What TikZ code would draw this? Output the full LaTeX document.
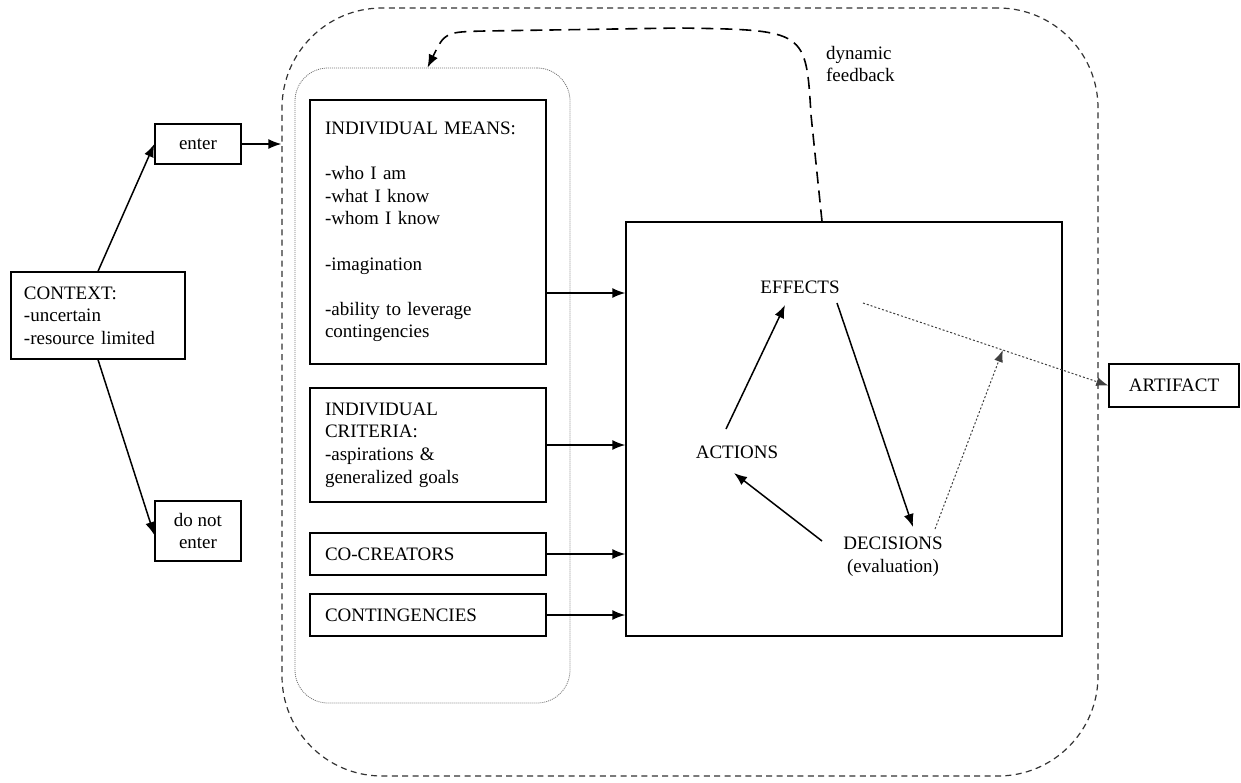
\documentclass[tikz,border=0pt]{standalone}
\usepackage{fontspec}
\setmainfont{Liberation Serif}
\usetikzlibrary{arrows.meta,calc}

\begin{document}
\begin{tikzpicture}[x=0.5pt, y=-0.5pt,
	every node/.style={font=\fontsize{9.5}{11.3}\selectfont},
	box/.style={draw, line width=0.7pt, inner sep=0pt},
	arr/.style={line width=0.75pt, -{Latex[length=6.5pt, width=5pt]}},
	frame/.style={draw=black!80, line width=0.6pt, dash pattern=on 3pt off 2.2pt, rounded corners=50pt},
	group/.style={draw=black!55, line width=0.4pt, dash pattern=on 0.5pt off 0.5pt, rounded corners=16.5pt},
	feedback/.style={line width=0.8pt, dash pattern=on 6pt off 3.5pt, -{Latex[length=6.5pt, width=5pt]}},
	dotline/.style={draw=black!75, line width=0.5pt, dash pattern=on 1pt off 1pt}]
	\useasboundingbox (0,0) rectangle (1241,782);
	% outer frames
	\node[frame, minimum width=408pt, minimum height=384pt] (outer) at (690,392) {};
	\node[group, minimum width=137.5pt, minimum height=317.5pt] (group) at (432.5,385.5) {};
	% left side
	\node[box, minimum width=87pt, text width=74pt, inner xsep=6.5pt, minimum height=43.5pt, align=left] (context) at (98,315.5) {CONTEXT:\\-uncertain\\-resource limited};
	\node[box, minimum width=43pt, minimum height=20pt, align=center] (enter) at (198,144) {enter};
	\node[box, minimum width=43pt, minimum height=30pt, align=center] (donot) at (198,531) {do not\\enter};
	% means, criteria, co-creators, contingencies
	\node[box, minimum width=118pt, text width=103pt, inner xsep=7.5pt, minimum height=132pt, align=left] (means) at (428,232) {INDIVIDUAL MEANS:\\[11.3pt]-who I am\\-what I know\\-whom I know\\[11.3pt]-imagination\\[11.3pt]-ability to leverage\\contingencies};
	\node[box, minimum width=118pt, text width=103pt, inner xsep=7.5pt, minimum height=57pt, align=left] (criteria) at (428,445) {INDIVIDUAL\\CRITERIA:\\-aspirations \&\\generalized goals};
	\node[box, minimum width=118pt, text width=103pt, inner xsep=7.5pt, minimum height=21pt, align=left] (cocreators) at (428,554) {CO-CREATORS};
	\node[box, minimum width=118pt, text width=103pt, inner xsep=7.5pt, minimum height=21pt, align=left] (contingencies) at (428,615) {CONTINGENCIES};
	% process
	\node[box, minimum width=218pt, minimum height=207pt] (process) at (844,429) {};
	\node (effects) at (800,287) {EFFECTS};
	\node (actions) at (737,452) {ACTIONS};
	\node[align=center] (decisions) at (893,557) {DECISIONS\\(evaluation)};
	\node[box, minimum width=65pt, minimum height=21.5pt] (artifact) at (1174,385.5) {ARTIFACT};
	\node[anchor=west, align=left] (dynfb) at (819,64) {dynamic\\feedback};
	% arrows
	\draw[arr] (context.north) -- (enter.west);
	\draw[arr] (context.south) -- ([yshift=-2pt]donot.west);
	\draw[arr] (enter.east) -- (enter.east -| outer.west);
	\draw[arr] ([yshift=-30.5pt]means.east) -- ([yshift=-30.5pt]means.east -| process.west);
	\draw[arr] (criteria.east) -- (criteria.east -| process.west);
	\draw[arr] (cocreators.east) -- (cocreators.east -| process.west);
	\draw[arr] (contingencies.east) -- (contingencies.east -| process.west);
	\draw[arr] ([shift={(-11,-23)}]actions.center) -- ([shift={(-15,18)}]effects.center);
	\draw[arr] ([shift={(37,16)}]effects.center) -- ([shift={(20,-30)}]decisions.center);
	\draw[arr] ([shift={(-71,-16)}]decisions.center) -- ([shift={(-3,21)}]actions.center);
	\draw[dotline, -{Latex[length=6pt, width=4.5pt]}] ([shift={(63,16)}]effects.center) -- (artifact.west);
	\coordinate (hit) at ($([shift={(63,16)}]effects.center)!0.57!(artifact.west)$);
	\draw[dotline, -{Latex[length=6pt, width=4.5pt]}] ([shift={(42,-28)}]decisions.center) -- (hit);
	\draw[feedback] ([xshift=-11pt]process.north) -- (811,115) .. controls (806,30) .. (680,28) -- (485,31) .. controls (445,32) .. ([xshift=-2.5pt]group.north);
\end{tikzpicture}
\end{document}
